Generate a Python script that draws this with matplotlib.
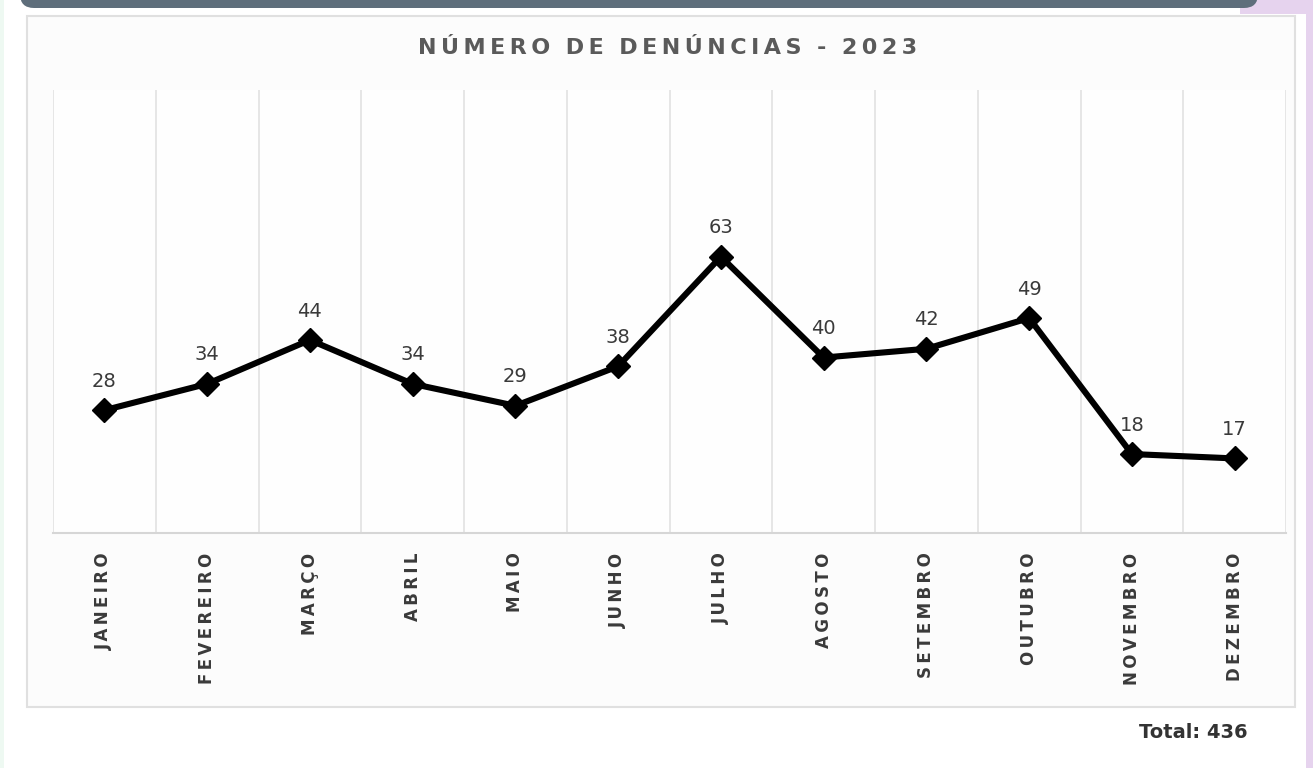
import matplotlib
matplotlib.use("Agg")
import matplotlib.pyplot as plt
from matplotlib.patches import FancyBboxPatch, Rectangle

# dados
meses = ["JANEIRO", "FEVEREIRO", "MARÇO", "ABRIL", "MAIO", "JUNHO",
         "JULHO", "AGOSTO", "SETEMBRO", "OUTUBRO", "NOVEMBRO", "DEZEMBRO"]
denuncias = [28, 34, 44, 34, 29, 38, 63, 40, 42, 49, 18, 17]
titulo = "NÚMERO DE DENÚNCIAS - 2023"
total_txt = "Total: 436"


def espacar(s, sep="\u2009"):
    return sep.join(list(s))


W, H = 1313, 768
fig = plt.figure(figsize=(W / 100, H / 100), dpi=100)
fig.patch.set_facecolor("white")

# fundo / moldura (coordenadas em pixels)
bg = fig.add_axes([0, 0, 1, 1], zorder=-1)
bg.set_xlim(0, W)
bg.set_ylim(H, 0)
bg.axis("off")
bg.add_patch(Rectangle((0, 0), 4, H, color="#eef9f2", lw=0))
bg.add_patch(Rectangle((1306, 0), 7, H, color="#e6d3ee", lw=0))
bg.add_patch(Rectangle((1240, 0), 73, 14, color="#e6d3ee", lw=0))
bg.add_patch(FancyBboxPatch((20, -30), 1238, 38, boxstyle="round,pad=0,rounding_size=14",
                            color="#5e6e7b", lw=0))
bg.add_patch(Rectangle((27, 16), 1268, 691, facecolor="#fcfcfc",
                       edgecolor="#e0e0e0", lw=1.5))

# grafico
ax = fig.add_axes([53 / W, 1 - 533 / H, 1233 / W, 443 / H])
ax.set_facecolor("#fefefe")
x = list(range(len(meses)))
ax.plot(x, denuncias, color="black", lw=4.4, marker="D", markersize=12,
        solid_joinstyle="miter", zorder=3)
for xi, v in zip(x, denuncias):
    ax.annotate(str(v), (xi, v), xytext=(0, 14), textcoords="offset points",
                ha="center", va="bottom", fontsize=14, color="#3a3a3a")

ax.set_xlim(-0.5, len(meses) - 0.5)
ax.set_ylim(0, 101)
ax.set_yticks([])
ax.set_xticks(x)
ax.set_xticklabels([espacar(m) for m in meses], rotation=90, fontsize=12,
                   fontweight="bold", color="#3a3a3a", va="top")
ax.tick_params(axis="x", length=0, pad=14)
for b in [i - 0.5 for i in range(len(meses) + 1)]:
    ax.axvline(b, color="#e4e4e4", lw=1.3, zorder=1)
for s in ["top", "left", "right"]:
    ax.spines[s].set_visible(False)
ax.spines["bottom"].set_color("#d6d6d6")
ax.spines["bottom"].set_linewidth(1.5)

fig.text(668 / W, 1 - 48 / H, espacar(titulo).replace("\u2009 \u2009", "  "),
         ha="center", va="center", fontsize=16, fontweight="bold", color="#5a5a5a")
fig.text(1248 / W, 1 - 733 / H, total_txt, ha="right", va="center",
         fontsize=14, fontweight="bold", color="#333333")

fig.savefig("out.png", dpi=100)
